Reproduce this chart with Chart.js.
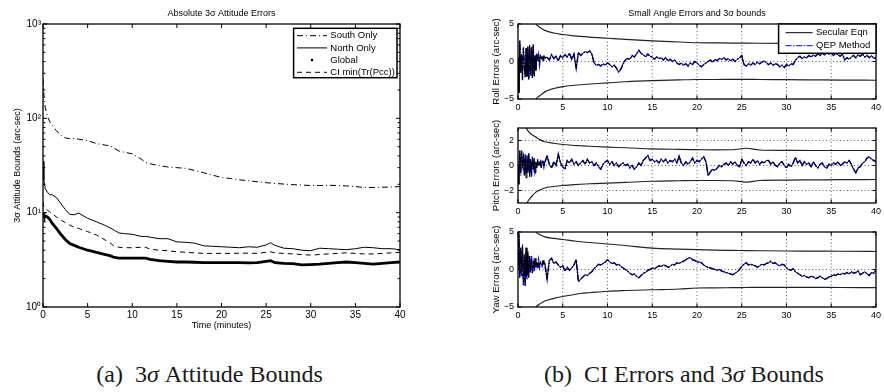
<!DOCTYPE html>
<html>
<head>
<meta charset="utf-8">
<script src="https://cdn.jsdelivr.net/npm/chart.js@4.4.1/dist/chart.umd.min.js"></script>
<style>
  body { margin: 0; background: #fff; }
  #fig { position: relative; width: 884px; height: 392px; overflow: hidden; background: #fff; }
  #fig canvas { position: absolute; }
  .cap { position: absolute; width: 400px; text-align: center; font-family: "Liberation Serif", "Times New Roman", serif; font-size: 24px; line-height: 24px; color: #1a1a1a; white-space: nowrap; }
</style>
</head>
<body>
<div id="fig">
  <canvas id="attitude" width="440" height="340" style="left:0;top:0"></canvas>
  <canvas id="roll" width="444" height="117" style="left:440px;top:0"></canvas>
  <canvas id="pitch" width="444" height="103" style="left:440px;top:118px"></canvas>
  <canvas id="yaw" width="444" height="103" style="left:440px;top:222px"></canvas>
  <div class="cap" style="left:9.5px;top:362px">(a)&nbsp; 3<i>σ</i> Attitude Bounds</div>
  <div class="cap" style="left:484px;top:362px">(b)&nbsp; CI Errors and 3<i>σ</i> Bounds</div>
</div>
<script>
// ---- (a) absolute 3-sigma attitude bounds, arc-sec, log axis
const attTime = [0, 0.1, 0.25, 0.5, 0.75, 1, 1.5, 2, 2.5, 3, 3.5, 4, 5, 6, 7, 7.5, 8, 8.5, 9,
  10, 11, 11.5, 12, 13, 14, 15, 16, 17, 18, 19, 20, 21, 22, 23, 24, 25, 25.5, 26, 27, 28, 29,
  30, 31, 32, 33, 34, 35, 36, 37, 38, 39, 40];
const southOnly = [260, 180, 130, 105, 92, 85, 74, 66, 62, 61, 61, 60, 58, 54, 52, 51, 48, 45, 44,
  42, 37, 34, 33, 31.5, 30.5, 30, 29.5, 28, 26.5, 25, 23.6, 23, 22.3, 21.8, 21.3, 20.8, 20.6, 20.4,
  20.1, 19.8, 19.6, 19.4, 19.4, 19.5, 19.4, 19.2, 18.9, 18.5, 18.5, 18.6, 18.7, 18.9];
const northOnly = [35, 22, 18, 16.5, 15.5, 15.5, 14.5, 12.5, 10.8, 9.6, 9.5, 9.9, 8.7, 8.0, 7.3, 6.9,
  6.5, 6.1, 6.0, 5.9, 5.6, 5.6, 5.5, 5.3, 5.3, 4.9, 4.85, 4.75, 4.45, 4.4, 4.35, 4.3, 4.25, 4.35, 4.3,
  4.55, 4.8, 4.5, 4.2, 4.15, 4.0, 3.95, 4.2, 4.15, 4.1, 4.05, 4.15, 4.3, 4.25, 4.15, 4.15, 4.05];
const globalSol = [10, 9.4, 9.2, 9.0, 8.5, 7.8, 6.8, 5.9, 5.2, 4.7, 4.5, 4.3, 4.0, 3.8, 3.6, 3.5, 3.35,
  3.3, 3.3, 3.3, 3.3, 3.3, 3.2, 3.1, 3.05, 3.0, 3.0, 2.98, 2.95, 2.95, 2.95, 2.95, 2.95, 2.93, 2.95,
  3.05, 3.1, 2.95, 2.9, 2.88, 2.8, 2.82, 2.85, 2.9, 2.95, 3.0, 2.95, 2.9, 2.85, 2.9, 2.95, 3.0];
const ciMinTrace = [13, 11.5, 11, 10.6, 10.2, 9.8, 9.0, 8.4, 7.8, 7.4, 7.0, 6.8, 6.3, 5.8, 5.1, 4.8,
  4.4, 4.3, 4.25, 4.25, 4.3, 4.3, 4.1, 4.0, 3.95, 3.85, 3.8, 3.75, 3.7, 3.7, 3.7, 3.7, 3.72, 3.72, 3.7,
  3.8, 3.85, 3.75, 3.7, 3.65, 3.6, 3.55, 3.6, 3.65, 3.7, 3.75, 3.7, 3.65, 3.65, 3.7, 3.75, 3.8];

const timeTicks = [0, 5, 10, 15, 20, 25, 30, 35, 40];
const logTicks = [1, 10, 100, 1000];
const logTickLabels = ['10⁰', '10¹', '10²', '10³'];
const logMinorTicks = [2, 3, 4, 5, 6, 7, 8, 9, 20, 30, 40, 50, 60, 70, 80, 90,
  200, 300, 400, 500, 600, 700, 800, 900];

// ---- (b) CI small angle errors and 3-sigma bounds, arc-sec
const errTime = [0, 0.1, 0.2, 0.3, 0.4, 0.5, 0.6, 0.7, 0.8, 0.9, 1, 1.1, 1.2, 1.3, 1.4, 1.5, 1.6,
  1.7, 1.8, 1.9, 2, 2.1, 2.2, 2.3, 2.4, 2.5, 2.6, 2.7, 2.8, 2.9, 3,
  3.25, 3.5, 3.75, 4, 4.25, 4.5, 4.75, 5, 5.25, 5.5, 5.75, 6, 6.25, 6.5, 6.75, 7,
  7.25, 7.5, 7.75, 8, 8.25, 8.5, 8.75, 9, 9.25, 9.5, 9.75, 10, 10.25, 10.5, 10.75, 11,
  11.25, 11.5, 11.75, 12, 12.25, 12.5, 12.75, 13, 13.25, 13.5, 13.75, 14, 14.25, 14.5, 14.75, 15,
  15.25, 15.5, 15.75, 16, 16.25, 16.5, 16.75, 17, 17.25, 17.5, 17.75, 18, 18.25, 18.5, 18.75, 19,
  19.25, 19.5, 19.75, 20, 20.25, 20.5, 20.75, 21, 21.25, 21.5, 21.75, 22, 22.25, 22.5, 22.75, 23,
  23.25, 23.5, 23.75, 24, 24.25, 24.5, 24.75, 25, 25.25, 25.5, 25.75, 26, 26.25, 26.5, 26.75, 27,
  27.25, 27.5, 27.75, 28, 28.25, 28.5, 28.75, 29, 29.25, 29.5, 29.75, 30, 30.25, 30.5, 30.75, 31,
  31.25, 31.5, 31.75, 32, 32.25, 32.5, 32.75, 33, 33.25, 33.5, 33.75, 34, 34.25, 34.5, 34.75, 35,
  35.25, 35.5, 35.75, 36, 36.25, 36.5, 36.75, 37, 37.25, 37.5, 37.75, 38, 38.25, 38.5, 38.75, 39,
  39.25, 39.5, 39.75, 40];

const rollSecular = [0.5, -4.2, 2.8, -1.5, 1.0, -2.3, 1.6, -0.5, -2.1, 1.8,
  -1.9, 2.0, -2.4, 2.2, -1.6, 1.9, -2.2, 2.1, -2.0, 0.8,
  -1.2, 0.9, 0.2, 0.6, -0.2, 0.9, 0.3, 0.7, 0.1, 0.8, 0.4,
  0.6, 0.2, 0.9, 0.4, 0.7, 0.1, 0.8, 0.5, 0.9, 0.6, 1.1, 0.3, 1.0, -0.9, 1.2, 0.8,
  1.1, 1.3, 1.2, 1.4, 1.0, -0.2, -0.5, -0.4, -0.6, -0.3, -0.5, -0.2, -0.4, -0.7, -0.5, -0.9,
  -1.4, -1.0, -0.3, 0.2, 0.4, 0.3, 0.8, 0.6, 1.0, 1.5, 1.1, 0.9, 0.6, 1.0, 0.7, 0.6,
  0.3, 0.6, 0.4, 0.5, 0.2, 0.5, 0.1, 0.3, 0.0, 0.2, -0.2, -0.4, -0.2, -0.5, -0.3, -0.6,
  -0.2, -0.4, 0.0, -0.2, -0.5, -0.7, -0.4, -0.2, 0.0, 0.2, -0.1, 0.3, 0.1, 0.4, 0.3, 0.5,
  0.2, 0.4, 0.1, 0.3, 0.0, 0.3, 0.5, 0.8, -0.4, -0.6, -0.3, -0.5, -0.2, -0.4, -0.1, -0.3,
  -0.1, 0.1, -0.2, -0.4, -0.2, -0.5, -0.3, -0.4, -0.7, -0.5, -0.8, -0.4, -0.6, -0.3, -0.4, 0.2,
  0.5, 0.7, 0.4, 0.6, 0.5, 0.8, 0.6, 0.9, 0.7, 1.0, 0.8, 1.1, 0.9, 1.2, 1.0, 1.1,
  0.8, 1.1, 0.9, 0.7, 1.0, 0.2, 0.5, 0.3, 0.6, 0.8, 0.5, 0.9, 0.7, 1.0, 0.6, 0.8,
  0.5, 0.8, 0.4, 0.6];
// the two solutions only part visibly during the first three minutes
const rollQepStart = [0.3, -4.0, 2.6, -1.2, 0.7, -2.5, 1.9, -0.2, -1.8, 1.5,
  -2.1, 1.7, -2.2, 1.9, -1.9, 1.6, -1.9, 2.3, -1.7, 0.5,
  -0.9, 1.1, 0.0, 0.8, -0.4, 0.7, 0.5, 0.5, 0.3, 0.6, 0.5];

const pitchSecular = [0.0, -1.5, 1.2, -0.6, 1.1, -0.2, 0.9, -0.8, 0.6, -1.0,
  0.8, -0.4, 0.9, -0.9, 0.5, -0.7, 0.7, -0.3, 0.4, -0.6,
  0.3, -0.2, 0.5, 0.0, 0.3, 0.1, -0.2, 0.4, 0.2, 0.0, 0.3,
  0.8, 0.1, -0.2, 0.3, 0.0, 0.9, 0.2, -0.1, -0.3, 0.4, 0.2, 0.5, 0.1, 0.3, 0.0, 0.2,
  0.4, 0.1, 0.5, 0.2, 0.3, 0.0, 0.2, -0.1, -0.3, 0.1, 0.3, 0.4, 0.1, 0.3, 0.0, 0.2,
  -0.1, 0.1, 0.2, 0.0, 0.1, -0.2, 0.0, -0.3, -0.1, 0.2, 0.0, 0.4, 0.6, 0.8, 0.4, 0.5,
  0.3, 0.4, 0.2, 0.5, 0.3, 0.5, 0.2, 0.4, 0.3, 0.5, 0.2, 0.75, 0.2, 0.0, 0.3, 0.1,
  0.3, 0.6, 0.2, 0.4, 0.3, 0.5, 0.7, 0.3, -0.8, -0.5, -0.3, -0.4, -0.2, 0.0, -0.1, 0.1,
  0.2, 0.0, 0.3, 0.1, 0.3, 0.0, -0.1, 0.5, 0.2, 0.0, 0.3, 0.2, 0.5, 0.2, 0.4, 0.1,
  0.3, 0.2, 0.4, 0.4, 0.1, 0.3, 0.0, -0.1, 0.2, 0.3, 0.0, -0.2, 0.1, -0.1, 0.2, 0.65,
  0.2, 0.4, 0.0, 0.3, 0.1, 0.2, -0.1, 0.3, 0.0, -0.2, 0.1, 0.2, -0.1, -0.2, 0.1, 0.0,
  0.2, 0.1, 0.3, 0.0, 0.1, 0.3, 0.2, 0.4, 0.1, -0.3, -0.6, -0.2, -0.1, 0.2, 0.3, 0.6,
  0.7, 0.5, 0.4, 0.3];
const pitchQepStart = [-1.2, 0.2, 1.0, -0.8, 1.2, 0.1, 0.6, -0.5, 0.9, -0.7,
  0.5, -0.6, 1.0, -0.6, 0.3, -0.9, 0.5, -0.1, 0.6, -0.4,
  0.1, 0.0, 0.3, 0.2, 0.1, 0.3, 0.0, 0.2, 0.4, -0.1, 0.2];

const yawSecular = [0.0, 4.6, -1.1, 2.9, -0.2, 3.3, -1.6, 2.0, -2.2, 2.9,
  -0.7, 2.4, -1.1, 1.8, 0.1, 1.4, -0.5, 1.1, 0.2, 1.5,
  0.3, 1.0, 0.4, 0.9, 0.5, 1.1, 0.6, 0.8, 1.2, 0.7, 0.9,
  -1.3, 1.2, 1.5, 0.8, 1.0, 0.6, 0.3, 0.5, -0.2, 0.3, -0.1, 0.2, 0.6, 1.3, -1.6, -1.3,
  -1.0, -0.7, -0.8, -0.5, -0.3, 0.1, 0.4, 0.7, 0.6, 0.8, 1.0, 1.3, 1.0, 0.8, 0.9, 0.6,
  0.7, 0.4, 0.2, 0.0, -0.2, -0.5, -0.7, -0.6, -0.9, -1.1, -0.8, -0.5, -0.4, -0.1, 0.0, 0.2,
  0.1, 0.3, 0.5, 0.4, 0.6, 0.5, 0.3, 0.4, 0.7, 0.6, 0.9, 0.8, 1.0, 1.1, 1.3, 1.5,
  1.6, 1.3, 1.2, 1.0, 1.0, 0.9, 0.6, 0.4, 0.3, 0.2, 0.1, 0.0, -0.1, 0.0, -0.2, -0.3,
  -0.4, -0.5, -0.6, -0.7, -0.5, -0.3, 0.0, 0.4, 0.7, 0.9, 0.6, 0.7, 0.6, 0.5, 0.3, 0.5,
  0.7, 0.6, 0.8, 0.9, 1.1, 0.8, 0.9, 0.6, 0.5, 0.7, 0.6, 0.2, 0.0, -0.1, 0.1, -0.3,
  -0.5, -0.7, -0.9, -0.8, -1.0, -1.1, -0.9, -1.0, -1.2, -1.1, -0.9, -1.1, -1.3, -1.2, -1.0, -0.9,
  -0.7, -0.8, -0.6, -0.7, -0.5, -0.6, -0.4, -0.6, -0.3, -0.5, -0.4, -0.2, -0.7, -0.5, -0.3, -0.6,
  -0.8, -0.4, -0.5, 0.0];
const yawQepStart = [0.5, 4.9, -0.6, 2.5, -0.9, 3.0, -2.1, 1.6, -1.7, 2.4,
  -1.3, 2.0, -0.5, 1.4, -0.4, 1.8, -0.1, 0.8, -0.3, 1.2,
  0.6, 0.7, 0.1, 1.2, 0.3, 0.8, 0.9, 0.5, 1.0, 0.9, 0.6];

const rollQep = rollQepStart.concat(rollSecular.slice(rollQepStart.length));
const pitchQep = pitchQepStart.concat(pitchSecular.slice(pitchQepStart.length));
const yawQep = yawQepStart.concat(yawSecular.slice(yawQepStart.length));

const boundTime = [0, 0.5, 1, 1.5, 2, 2.5, 3, 4, 5, 6, 7, 8, 10, 12, 15, 18, 20, 22, 24, 25.5, 27, 30, 33, 36, 40];
const rollUpper = [40, 14, 8.5, 6.2, 5.0, 4.5, 4.15, 3.8, 3.6, 3.45, 3.35, 3.25, 3.1, 2.95, 2.75, 2.6, 2.5, 2.48, 2.46, 2.44, 2.43, 2.42, 2.43, 2.42, 2.42];
const rollLower = [-40, -14, -8.5, -6.2, -5.0, -4.5, -4.05, -3.6, -3.35, -3.2, -3.1, -3.0, -2.85, -2.7, -2.55, -2.45, -2.4, -2.4, -2.38, -2.38, -2.4, -2.42, -2.45, -2.48, -2.5];
const pitchUpper = [8, 4, 2.9, 2.5, 2.27, 2.05, 1.9, 1.78, 1.68, 1.62, 1.58, 1.54, 1.47, 1.42, 1.33, 1.29, 1.27, 1.25, 1.26, 1.38, 1.24, 1.21, 1.2, 1.2, 1.2];
const pitchLower = [-8, -4, -3.0, -2.5, -2.13, -1.95, -1.8, -1.68, -1.6, -1.55, -1.5, -1.46, -1.41, -1.35, -1.26, -1.22, -1.2, -1.2, -1.22, -1.33, -1.2, -1.17, -1.15, -1.13, -1.12];
const yawUpper = [40, 14, 8.5, 6.2, 5.0, 4.6, 4.35, 4.15, 4.0, 3.85, 3.7, 3.6, 3.4, 3.2, 2.86, 2.72, 2.64, 2.58, 2.55, 2.52, 2.5, 2.47, 2.45, 2.43, 2.4];
const yawLower = [-40, -14, -8.5, -6.2, -5.0, -4.55, -4.2, -3.85, -3.6, -3.4, -3.2, -3.1, -2.9, -2.8, -2.7, -2.6, -2.47, -2.45, -2.42, -2.4, -2.38, -2.37, -2.38, -2.4, -2.42];

const rollTicks = [-5, 0, 5];
const pitchTicks = [-2, 0, 2];
const yawTicks = [-5, 0, 5];

Chart.defaults.font.family = '"Liberation Sans", Arial, sans-serif';
Chart.defaults.font.size = 10;
Chart.defaults.color = '#000';

const pts = (xs, ys) => xs.map((x, i) => ({ x: x, y: ys[i] }));
const setTicks = (values) => (scale) => { scale.ticks = values.map(v => ({ value: v })); };
const minusSign = (v) => (v < 0 ? '\u2212' + Math.abs(v) : String(v));
// no built-in grid: the plugin below draws it; drawTicks off so labels sit next to the frame
const noGrid = { display: false, drawTicks: false };

function drawLegend(chart, L) {
  const { ctx, chartArea: a } = chart;
  const bx = a.right - L.right - L.width;
  const by = a.top + L.top;
  ctx.save();
  ctx.fillStyle = '#fff';
  ctx.fillRect(bx, by, L.width, L.height);
  ctx.strokeStyle = '#000';
  ctx.lineWidth = 1.5;
  ctx.strokeRect(bx, by, L.width, L.height);
  ctx.font = L.font;
  ctx.textBaseline = 'middle';
  ctx.textAlign = 'left';
  chart.data.datasets.filter(d => d.inLegend).forEach((d, i) => {
    const ry = by + L.first + i * L.step;
    const x0 = bx + L.lineX;
    if (d.legendMarker === 'dot') {
      ctx.fillStyle = d.borderColor;
      ctx.beginPath();
      ctx.arc(x0 + L.lineW / 2, ry, 1.3, 0, Math.PI * 2);
      ctx.fill();
    } else {
      ctx.strokeStyle = d.borderColor;
      ctx.lineWidth = 1;
      ctx.setLineDash(d.borderDash || []);
      ctx.beginPath();
      ctx.moveTo(x0, ry);
      ctx.lineTo(x0 + L.lineW, ry);
      ctx.stroke();
      ctx.setLineDash([]);
    }
    ctx.fillStyle = '#000';
    ctx.fillText(d.label, bx + L.textX, ry);
  });
  ctx.restore();
}

// matlab look: dotted grid, inward ticks on all four sides, boxed axes, boxed legend
const matlabAxes = {
  id: 'matlabAxes',
  beforeDatasetsDraw(chart, args, opts) {
    if (!opts.dottedGrid) return;
    const { ctx, chartArea: a, scales } = chart;
    ctx.save();
    ctx.strokeStyle = '#4a4a4a';
    ctx.lineWidth = 0.9;
    ctx.setLineDash([1, 2.5]);
    ctx.beginPath();
    scales.x.ticks.forEach(t => {
      const px = scales.x.getPixelForValue(t.value);
      if (px > a.left + 1 && px < a.right - 1) { ctx.moveTo(px, a.top); ctx.lineTo(px, a.bottom); }
    });
    scales.y.ticks.forEach(t => {
      const py = scales.y.getPixelForValue(t.value);
      if (py > a.top + 1 && py < a.bottom - 1) { ctx.moveTo(a.left, py); ctx.lineTo(a.right, py); }
    });
    ctx.stroke();
    ctx.restore();
  },
  afterDatasetsDraw(chart, args, opts) {
    const { ctx, chartArea: a, scales } = chart;
    const len = opts.tickLength;
    ctx.save();
    ctx.strokeStyle = '#000';
    ctx.lineWidth = 1;
    ctx.beginPath();
    scales.x.ticks.forEach(t => {
      const px = scales.x.getPixelForValue(t.value);
      ctx.moveTo(px, a.bottom); ctx.lineTo(px, a.bottom - len);
      ctx.moveTo(px, a.top); ctx.lineTo(px, a.top + len);
    });
    const yTick = (v, l) => {
      const py = scales.y.getPixelForValue(v);
      ctx.moveTo(a.left, py); ctx.lineTo(a.left + l, py);
      ctx.moveTo(a.right, py); ctx.lineTo(a.right - l, py);
    };
    scales.y.ticks.forEach(t => yTick(t.value, len));
    (opts.minorY || []).forEach(v => yTick(v, len * 0.6));
    ctx.stroke();
    ctx.lineWidth = 1.3;
    ctx.strokeRect(a.left, a.top, a.right - a.left, a.bottom - a.top);
    ctx.restore();
    if (opts.legend) drawLegend(chart, opts.legend);
  }
};

new Chart(document.getElementById('attitude'), {
  type: 'line',
  data: {
    datasets: [
      { label: 'South Only', data: pts(attTime, southOnly), borderColor: '#000', borderWidth: 1, borderDash: [6, 3, 1, 3], inLegend: true },
      { label: 'North Only', data: pts(attTime, northOnly), borderColor: '#000', borderWidth: 1, inLegend: true },
      { label: 'Global', data: pts(attTime, globalSol), borderColor: '#000', borderWidth: 2.8, inLegend: true, legendMarker: 'dot' },
      { label: 'CI min(Tr(Pcc))', data: pts(attTime, ciMinTrace), borderColor: '#000', borderWidth: 1, borderDash: [5, 4], inLegend: true }
    ]
  },
  options: {
    responsive: false,
    animation: false,
    devicePixelRatio: 1,
    elements: { point: { radius: 0 }, line: { tension: 0 } },
    layout: { padding: { left: 0, right: 40, top: 0, bottom: 0 } },
    plugins: {
      legend: { display: false },
      tooltip: { enabled: false },
      title: {
        display: true, text: 'Absolute 3σ Attitude Errors', fullSize: false, color: '#000',
        font: { size: 9, weight: 'normal', lineHeight: '11px' }, padding: { top: 8, bottom: 5 }
      },
      matlabAxes: {
        tickLength: 4,
        minorY: logMinorTicks,
        legend: { right: 3, top: 4.3, width: 103.4, height: 49.4, first: 7.4, step: 12.2,
          lineX: 3.4, lineW: 30, textX: 36.7, font: '9.5px "Liberation Sans", Arial, sans-serif' }
      }
    },
    scales: {
      x: {
        type: 'linear', min: 0, max: 40,
        afterBuildTicks: setTicks(timeTicks),
        afterFit: (s) => { s.height = 33; },
        grid: noGrid, border: { display: false },
        ticks: { font: { size: 10 }, padding: 2, maxRotation: 0 },
        title: { display: true, text: 'Time (minutes)', font: { size: 9, lineHeight: '11px' }, padding: { top: 0, bottom: 8.5 } }
      },
      y: {
        type: 'logarithmic', min: 1, max: 1000,
        afterBuildTicks: setTicks(logTicks),
        afterFit: (s) => { s.width = 43; },
        grid: noGrid, border: { display: false },
        ticks: { font: { size: 10 }, padding: 2, callback: (v, i) => logTickLabels[i] },
        title: { display: true, text: '3σ Attitude Bounds (arc-sec)', font: { size: 9, lineHeight: '11px' }, padding: { top: 12.5, bottom: 0 } }
      }
    }
  },
  plugins: [matlabAxes]
});

function errorChart(id, cfg) {
  return new Chart(document.getElementById(id), {
    type: 'line',
    data: {
      datasets: [
        { label: '3σ upper', data: pts(boundTime, cfg.upper), borderColor: '#222', borderWidth: 1.2, cubicInterpolationMode: 'monotone' },
        { label: '3σ lower', data: pts(boundTime, cfg.lower), borderColor: '#222', borderWidth: 1.2, cubicInterpolationMode: 'monotone' },
        { label: 'Secular Eqn', data: pts(errTime, cfg.secular), borderColor: '#000', borderWidth: 1, inLegend: true },
        { label: 'QEP Method', data: pts(errTime, cfg.qep), borderColor: '#0000ff', borderWidth: 1.5, borderDash: [6, 1.5, 1.5, 1.5], inLegend: true }
      ]
    },
    options: {
      responsive: false,
      animation: false,
      devicePixelRatio: 1,
      elements: { point: { radius: 0 }, line: { tension: 0 } },
      layout: { padding: { left: 0, right: 8, top: cfg.title ? 0 : 10, bottom: 0 } },
      plugins: {
        legend: { display: false },
        tooltip: { enabled: false },
        title: {
          display: !!cfg.title, text: cfg.title || '', fullSize: false, color: '#000',
          font: { size: 9, weight: 'normal', lineHeight: '11px' }, padding: { top: 8, bottom: 5 }
        },
        matlabAxes: {
          tickLength: 3.5,
          dottedGrid: true,
          legend: cfg.legend ? { right: 0, top: 0, width: 97.4, height: 29.3, first: 8.7, step: 13,
            lineX: 7, lineW: 27, textX: 37.4, font: '9.5px "Liberation Sans", Arial, sans-serif' } : null
        }
      },
      scales: {
        x: {
          type: 'linear', min: 0, max: 40,
          afterBuildTicks: setTicks(timeTicks),
          afterFit: (s) => { s.height = 18; },
          grid: noGrid, border: { display: false },
          ticks: { font: { size: 9 }, padding: 3, maxRotation: 0 }
        },
        y: {
          type: 'linear', min: cfg.min, max: cfg.max,
          afterBuildTicks: setTicks(cfg.ticks),
          afterFit: (s) => { s.width = 78; },
          grid: noGrid, border: { display: false },
          ticks: { font: { size: 9 }, padding: 4, callback: minusSign },
          title: { display: true, text: cfg.yTitle, font: { size: 9.7, lineHeight: '11px' }, padding: { top: 50.5, bottom: 0 } }
        }
      }
    },
    plugins: [matlabAxes]
  });
}

errorChart('roll', { title: 'Small Angle Errors and 3σ bounds', yTitle: 'Roll Errors (arc-sec)', min: -5, max: 5,
  ticks: rollTicks, upper: rollUpper, lower: rollLower, secular: rollSecular, qep: rollQep, legend: true });
errorChart('pitch', { yTitle: 'Pitch Errors (arc-sec)', min: -3, max: 3,
  ticks: pitchTicks, upper: pitchUpper, lower: pitchLower, secular: pitchSecular, qep: pitchQep });
errorChart('yaw', { yTitle: 'Yaw Errors (arc-sec)', min: -5, max: 5,
  ticks: yawTicks, upper: yawUpper, lower: yawLower, secular: yawSecular, qep: yawQep });
</script>
</body>
</html>
